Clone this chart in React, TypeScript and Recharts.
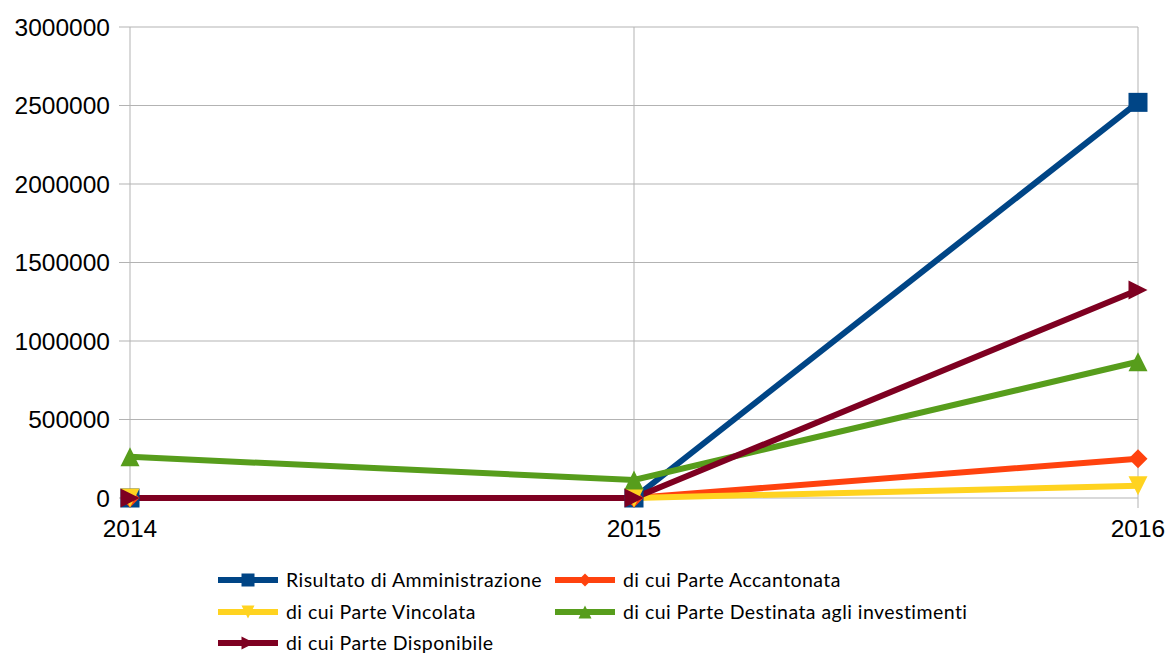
import React from 'react';
import { LineChart, Line, XAxis, YAxis, CartesianGrid, Legend } from 'recharts';

const years = ['2014', '2015', '2016'];
const risultato = [0, 0, 2520000];
const accantonata = [0, 0, 250000];
const vincolata = [0, 0, 78000];
const destinata = [262000, 115000, 868000];
const disponibile = [0, 0, 1325000];
const yTicks = [0, 500000, 1000000, 1500000, 2000000, 2500000, 3000000];

const seriesNames = [
  'Risultato di Amministrazione',
  'di cui Parte Accantonata',
  'di cui Parte Vincolata',
  'di cui Parte Destinata agli investimenti',
  'di cui Parte Disponibile',
];
const colors = ['#004586', '#ff420e', '#ffd320', '#579d1c', '#7e0021'];
const shapes = ['square', 'diamond', 'down', 'up', 'right'];

const data = years.map((y, i) => ({
  year: y,
  s0: risultato[i],
  s1: accantonata[i],
  s2: vincolata[i],
  s3: destinata[i],
  s4: disponibile[i],
}));

function Marker({ shape, cx, cy, color, r = 9.5 }: { shape: string; cx: number; cy: number; color: string; r?: number }) {
  if (shape === 'square') {
    return <rect x={cx - r} y={cy - r} width={2 * r} height={2 * r} fill={color} />;
  }
  if (shape === 'diamond') {
    return <polygon points={`${cx},${cy - r} ${cx + r},${cy} ${cx},${cy + r} ${cx - r},${cy}`} fill={color} />;
  }
  if (shape === 'down') {
    return <polygon points={`${cx - r},${cy - r} ${cx + r},${cy - r} ${cx},${cy + r}`} fill={color} />;
  }
  if (shape === 'up') {
    return <polygon points={`${cx - r},${cy + r} ${cx + r},${cy + r} ${cx},${cy - r}`} fill={color} />;
  }
  return <polygon points={`${cx - r},${cy - r} ${cx + r},${cy} ${cx - r},${cy + r}`} fill={color} />;
}

const makeDot = (idx: number) => (props: any) => {
  const { cx, cy, index } = props;
  if (cx == null || cy == null) return <g key={`d${idx}-${index}`} />;
  return (
    <g key={`d${idx}-${index}`}>
      <Marker shape={shapes[idx]} cx={cx} cy={cy} color={colors[idx]} />
    </g>
  );
};

function LegendContent() {
  const positions = [
    { x: 218, y: 580 },
    { x: 555, y: 580 },
    { x: 218, y: 612 },
    { x: 555, y: 612 },
    { x: 218, y: 643 },
  ];
  return (
    <svg width={1168} height={653} style={{ position: 'absolute', left: 0, top: 0, overflow: 'visible' }}>
      {seriesNames.map((name, i) => {
        const p = positions[i];
        return (
          <g key={name}>
            <line x1={p.x} y1={p.y} x2={p.x + 60} y2={p.y} stroke={colors[i]} strokeWidth={6} />
            <Marker shape={shapes[i]} cx={p.x + 30} cy={p.y} color={colors[i]} r={6.5} />
            <text x={p.x + 68} y={p.y} dy="0.35em" fontFamily="Lato" fontSize={19.5} fill="#000" letterSpacing={0.45}>
              {name}
            </text>
          </g>
        );
      })}
    </svg>
  );
}

export default function App() {
  return (
    <div style={{ position: 'absolute', left: 0, top: 0, width: 1168, height: 653, background: '#fff' }}>
      <LineChart
        width={1168}
        height={653}
        data={data}
        margin={{ top: 27, right: 30, bottom: 0, left: 10 }}
      >
        <CartesianGrid stroke="#b3b3b3" strokeWidth={1} vertical={true} horizontal={true} />
        <XAxis
          dataKey="year"
          scale="point"
          padding={{ left: 0, right: 0 }}
          height={155}
          tickSize={10}
          tickMargin={12}
          tickLine={{ stroke: '#b3b3b3' }}
          axisLine={false}
          tick={{ fontFamily: 'Liberation Sans', fontSize: 24.5, fill: '#000' }}
        />
        <YAxis
          width={120}
          domain={[0, 3000000]}
          ticks={yTicks}
          interval={0}
          tickSize={11}
          tickMargin={9}
          tickLine={{ stroke: '#b3b3b3' }}
          axisLine={false}
          tick={{ fontFamily: 'Liberation Sans', fontSize: 24.5, fill: '#000' }}
        />
        <Legend
          content={() => <LegendContent />}
          wrapperStyle={{ position: 'absolute', left: 0, top: 0, width: 0, height: 0, overflow: 'visible', pointerEvents: 'none' }}
        />
        {[0, 1, 2, 3, 4].map((i) => (
          <Line
            key={i}
            type="linear"
            dataKey={`s${i}`}
            name={seriesNames[i]}
            stroke={colors[i]}
            strokeWidth={6}
            dot={makeDot(i)}
            activeDot={false}
            isAnimationActive={false}
          />
        ))}
      </LineChart>
    </div>
  );
}
